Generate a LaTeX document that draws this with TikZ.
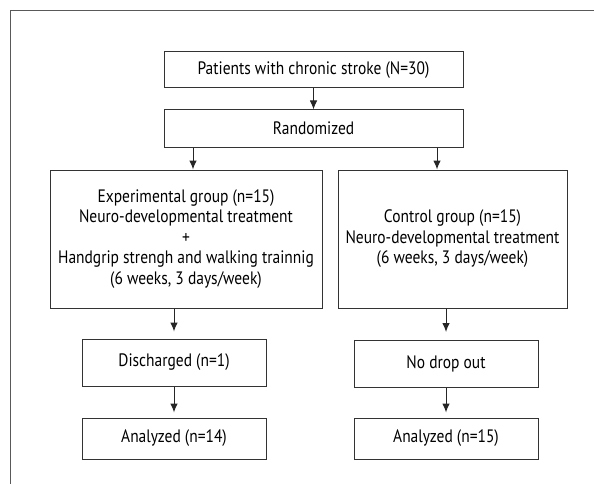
\documentclass[tikz,border=0pt]{standalone}
\usepackage{fontspec}
\setmainfont[FakeStretch=0.86]{PT Sans}
\usepackage{tikz}
\usetikzlibrary{shapes,arrows,arrows.meta}

\begin{document}
\begin{tikzpicture}[auto, font=\fontsize{18}{20.5}\selectfont,
  block/.style={rectangle, draw=black!80, line width=1pt, align=center, inner sep=0pt},
  line/.style={draw=black!85, line width=1pt, -{Latex[length=9pt,width=7.5pt]}},
  frame/.style={draw=black!65, line width=1pt}]

  \useasboundingbox (0,0) rectangle (594pt,-484pt);
  \draw [frame] (594pt,-11pt) -- (10pt,-11pt) -- (10pt,-484pt);

  \node [block, minimum width=299pt, minimum height=36pt] (patients) at (313.5pt,-70pt) {Patients with chronic stroke (N=30)};
  \node [block, below of=patients, node distance=58.5pt, minimum width=299pt, minimum height=37pt] (random) {Randomized};

  % Two arms
  \node [block, below of=random, node distance=110.5pt, xshift=-127.5pt, minimum width=272pt, minimum height=138pt] (expgroup)
    {Experimental group (n=15)\\ Neuro-developmental treatment\\ +\\ Handgrip strengh and walking trainnig\\ (6 weeks, 3 days/week)};
  \node [block, below of=random, node distance=110.5pt, xshift=139pt, minimum width=229pt, minimum height=138pt] (ctrlgroup)
    {Control group (n=15)\\ Neuro-developmental treatment\\ (6 weeks, 3 days/week)};

  \node [block, below of=expgroup, node distance=123.5pt, xshift=-12pt, minimum width=184pt, minimum height=47pt] (discharged) {Discharged (n=1)};
  \node [block, below of=ctrlgroup, node distance=125pt, xshift=-6.5pt, minimum width=184pt, minimum height=47pt] (nodrop) {No drop out};
  \node [block, below of=discharged, node distance=76pt, minimum width=184pt, minimum height=41pt] (analyzedexp) {Analyzed (n=14)};
  \node [block, below of=nodrop, node distance=74.5pt, minimum width=184pt, minimum height=41pt] (analyzedctrl) {Analyzed (n=15)};

  \path [line] (patients) -- (random);
  \path [line] ([xshift=-120.5pt]random.south) -- ([xshift=-120.5pt]random.south |- expgroup.north);
  \path [line] ([xshift=123.5pt]random.south) -- ([xshift=123.5pt]random.south |- ctrlgroup.north);
  \path [line, shorten >=7pt] (expgroup.south -| discharged.north) -- (discharged);
  \path [line, shorten >=8pt] (ctrlgroup.south -| nodrop.north) -- (nodrop);
  \path [line, shorten >=5pt] (discharged) -- (analyzedexp);
  \path [line, shorten >=5pt] (nodrop) -- (analyzedctrl);
\end{tikzpicture}
\end{document}
